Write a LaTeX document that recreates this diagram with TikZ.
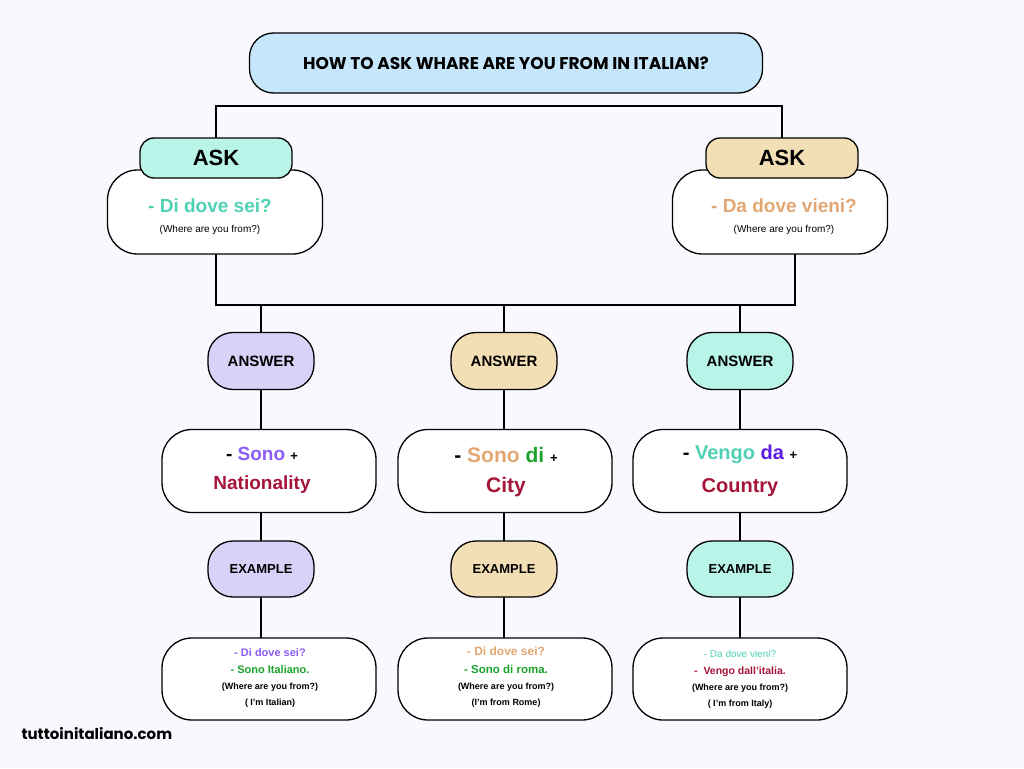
\documentclass[tikz,border=0pt]{standalone}
\usepackage{fontspec}
\setmainfont{Liberation Sans}
\newfontfamily\pop{Poppins}
\newcommand\fs[1]{\fontsize{#1}{#1}\selectfont}
\begin{document}
\begin{tikzpicture}[x=1pt,y=-1pt,
 bx/.style={draw,line width=1.3pt,rounded corners=26pt,fill=white},
 pill/.style={draw,line width=1.3pt,rounded corners=18pt},
 ln/.style={line width=1.3pt}]
\definecolor{bg}{HTML}{F8F8FE}
\definecolor{tb}{HTML}{C6E7FB}
\definecolor{mint}{HTML}{B8F5E8}
\definecolor{sand}{HTML}{F3DFB5}
\definecolor{lil}{HTML}{D8D2F8}
\definecolor{teal}{HTML}{4FD1B5}
\definecolor{ora}{HTML}{E3A773}
\definecolor{pur}{HTML}{8B5CF6}
\definecolor{grn}{HTML}{1BA32B}
\definecolor{mar}{HTML}{A5153A}
\definecolor{vio}{HTML}{5B1BE0}
\fill[bg] (0,0) rectangle (1024,768);
\useasboundingbox (0,0) rectangle (1024,768);
% lines
\draw[ln] (216,140) -- (216,106) -- (782,106) -- (782,140);
\draw[ln] (216,254) -- (216,305) -- (795,305) -- (795,254);
\foreach \x in {261,504,740} \draw[ln] (\x,305) -- (\x,640);
% title
\node[pill,fill=tb,minimum width=513pt,minimum height=60pt,rounded corners=24pt] (t) at (506,63) {\pop\fs{17}\bfseries HOW TO ASK WHARE ARE YOU FROM IN ITALIAN?};
% ask boxes
\node[bx,minimum width=215pt,minimum height=84pt,rounded corners=30pt] (q1) at (215,212) {};
\node[align=center,font=\bfseries] at (210,217) {{\fs{19}\color{teal}- Di dove sei?}\\[8pt]{\fs{10}\mdseries(Where are you from?)}};
\node[bx,minimum width=215pt,minimum height=84pt,rounded corners=30pt] (q2) at (780,212) {};
\node[align=center,font=\bfseries] at (784,217) {{\fs{19}\color{ora}- Da dove vieni?}\\[8pt]{\fs{10}\mdseries(Where are you from?)}};
\node[pill,fill=mint,minimum width=152pt,minimum height=40pt,rounded corners=14pt] (a1) at (216,158) {\fs{22}\bfseries ASK};
\node[pill,fill=sand,minimum width=152pt,minimum height=40pt,rounded corners=14pt] (a2) at (782,158) {\fs{22}\bfseries ASK};
% answer
\foreach \n/\x/\c/\y in {l/261/lil/269,m/504/sand/505,r/740/mint/740}{
 \node[pill,fill=\c,minimum width=106pt,minimum height=57pt,rounded corners=25pt] (ans\n) at (\x,361) {\fs{15}\bfseries ANSWER};
 \node[pill,fill=\c,minimum width=106pt,minimum height=56pt,rounded corners=25pt] (ex\n) at (\x,569) {\fs{13}\bfseries EXAMPLE};
 \node[bx,minimum width=214pt,minimum height=83pt,rounded corners=30pt] (r\n) at (\y,471) {};
 \node[bx,minimum width=214pt,minimum height=82pt,rounded corners=30pt] (e\n) at (\y,679) {};
}
\node[align=center,font=\bfseries] at (262,470) {{\fs{19}- {\color{pur}Sono} {\fs{13}+}}\\[14pt]{\fs{19}\color{mar}Nationality}};
\node[align=center,font=\bfseries] at (506,472) {{\fs{21}- {\color{ora}Sono} {\color{grn}di} {\fs{13}+}}\\[14pt]{\fs{21}\color{mar}City}};
\node[align=center,font=\bfseries] at (740,471) {{\fs{20}- {\color{teal}Vengo} {\color{vio}da} {\fs{13}+}}\\[14pt]{\fs{20}\color{mar}Country}};
\node[align=center,font=\bfseries] at (270,678) {{\fs{11}\color{pur}- Di dove sei?}\\[5pt]{\fs{11}\color{grn}- Sono Italiano.}\\[4pt]{\fs{9}(Where are you from?)}\\[4pt]{\fs{9}( I'm Italian)}};
\node[align=center,font=\bfseries] at (506,677) {{\fs{12}\color{ora}- Di dove sei?}\\[6pt]{\fs{11.5}\color{grn}- Sono di roma.}\\[4pt]{\fs{9}(Where are you from?)}\\[4pt]{\fs{9}(I'm from Rome)}};
\node[align=center,font=\bfseries] at (740,679) {{\fs{10}\mdseries\color{teal}- Da dove vieni?}\\[5pt]{\fs{10.5}\color{mar}-\ \ Vengo dall'italia.}\\[4pt]{\fs{9}(Where are you from?)}\\[4pt]{\fs{9}( I'm from Italy)}};
\node[anchor=west] (brand) at (18,734) {\pop\fs{15}\bfseries tuttoinitaliano.com};
\end{tikzpicture}
\end{document}
